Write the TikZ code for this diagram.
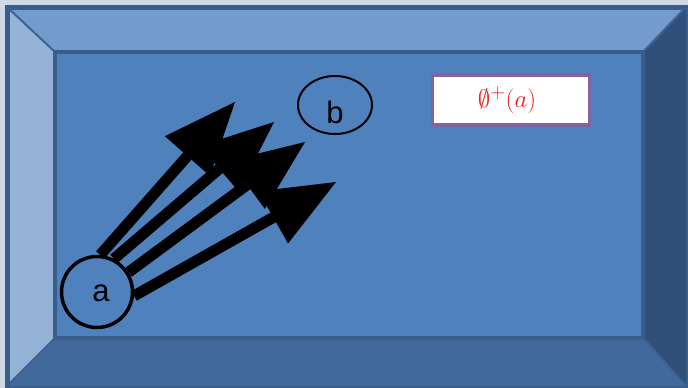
\documentclass[tikz,border=0pt]{standalone}
\usepackage{fontspec}
\newfontfamily\arialfont{Liberation Sans}
\usetikzlibrary{arrows.meta,shapes.geometric}
\definecolor{bgpage}{HTML}{CFD8E7}
\definecolor{innerfill}{HTML}{4F81BD}
\definecolor{topbevel}{HTML}{739BCE}
\definecolor{leftbevel}{HTML}{95B3D7}
\definecolor{rightbevel}{HTML}{30507A}
\definecolor{bottombevel}{HTML}{41699B}
\definecolor{edgeline}{HTML}{3A5E8C}
\definecolor{diagline}{HTML}{3D6293}
\definecolor{boxborder}{HTML}{8064A2}
\definecolor{labelred}{HTML}{E8201C}
\tikzset{
  vertexa/.style={circle,draw=black,line width=3.5pt,minimum size=71pt,inner sep=0pt,font=\arialfont\fontsize{31}{34}\selectfont},
  vertexb/.style={ellipse,draw=black,line width=2pt,minimum width=74pt,minimum height=58pt,inner sep=0pt,font=\arialfont\fontsize{31}{34}\selectfont},
  bigarrow/.style={draw=black,line width=11pt,-{Triangle[length=72pt,width=60pt,line width=0pt]}},
  labelbox/.style={draw=boxborder,fill=white,line width=3.5pt,minimum width=157pt,minimum height=50pt,inner sep=0pt,text=labelred,font=\fontsize{29}{32}\selectfont}
}
\begin{document}
\begin{tikzpicture}[x=1pt,y=-1pt]
\useasboundingbox (0,0) rectangle (688,388);
\fill[bgpage] (0,0) rectangle (688,388);
% bevel faces
\fill[topbevel] (7,7) -- (686,7) -- (643,52) -- (55,52) -- cycle;
\fill[leftbevel] (7,7) -- (55,52) -- (55,338) -- (7,386) -- cycle;
\fill[rightbevel] (686,7) -- (686,386) -- (643,338) -- (643,52) -- cycle;
\fill[bottombevel] (7,386) -- (686,386) -- (643,338) -- (55,338) -- cycle;
\fill[innerfill] (55,52) rectangle (643,338);
% diagonals
\draw[diagline,line width=2pt] (7,7) -- (55,52) (686,7) -- (643,52) (7,386) -- (55,338) (686,386) -- (643,338);
\draw[edgeline,line width=4pt] (55,52) rectangle (643,338);
\draw[edgeline,line width=5pt] (7,7) rectangle (688,388);
% nodes
\node[vertexa] (a) at (97,292) {\hspace*{8pt}\raisebox{-9pt}[0pt][0pt]{a}};
\node[vertexb] (b) at (335,105) {\raisebox{-18pt}[0pt][0pt]{b}};
\node[labelbox] (lbl) at (511,100) {\hspace*{-8pt}$\emptyset^{+}(a)$};
% arrow ends
\coordinate (t1) at (235,102);
\coordinate (t2) at (274,122);
\coordinate (t3) at (305,142);
\coordinate (t4) at (336,182);
\draw[bigarrow] (a.85) -- (t1);
\draw[bigarrow] (a.63) -- (t2);
\draw[bigarrow] (a.32) -- (t3);
\draw[bigarrow] (a.-6) -- (t4);
\end{tikzpicture}
\end{document}
